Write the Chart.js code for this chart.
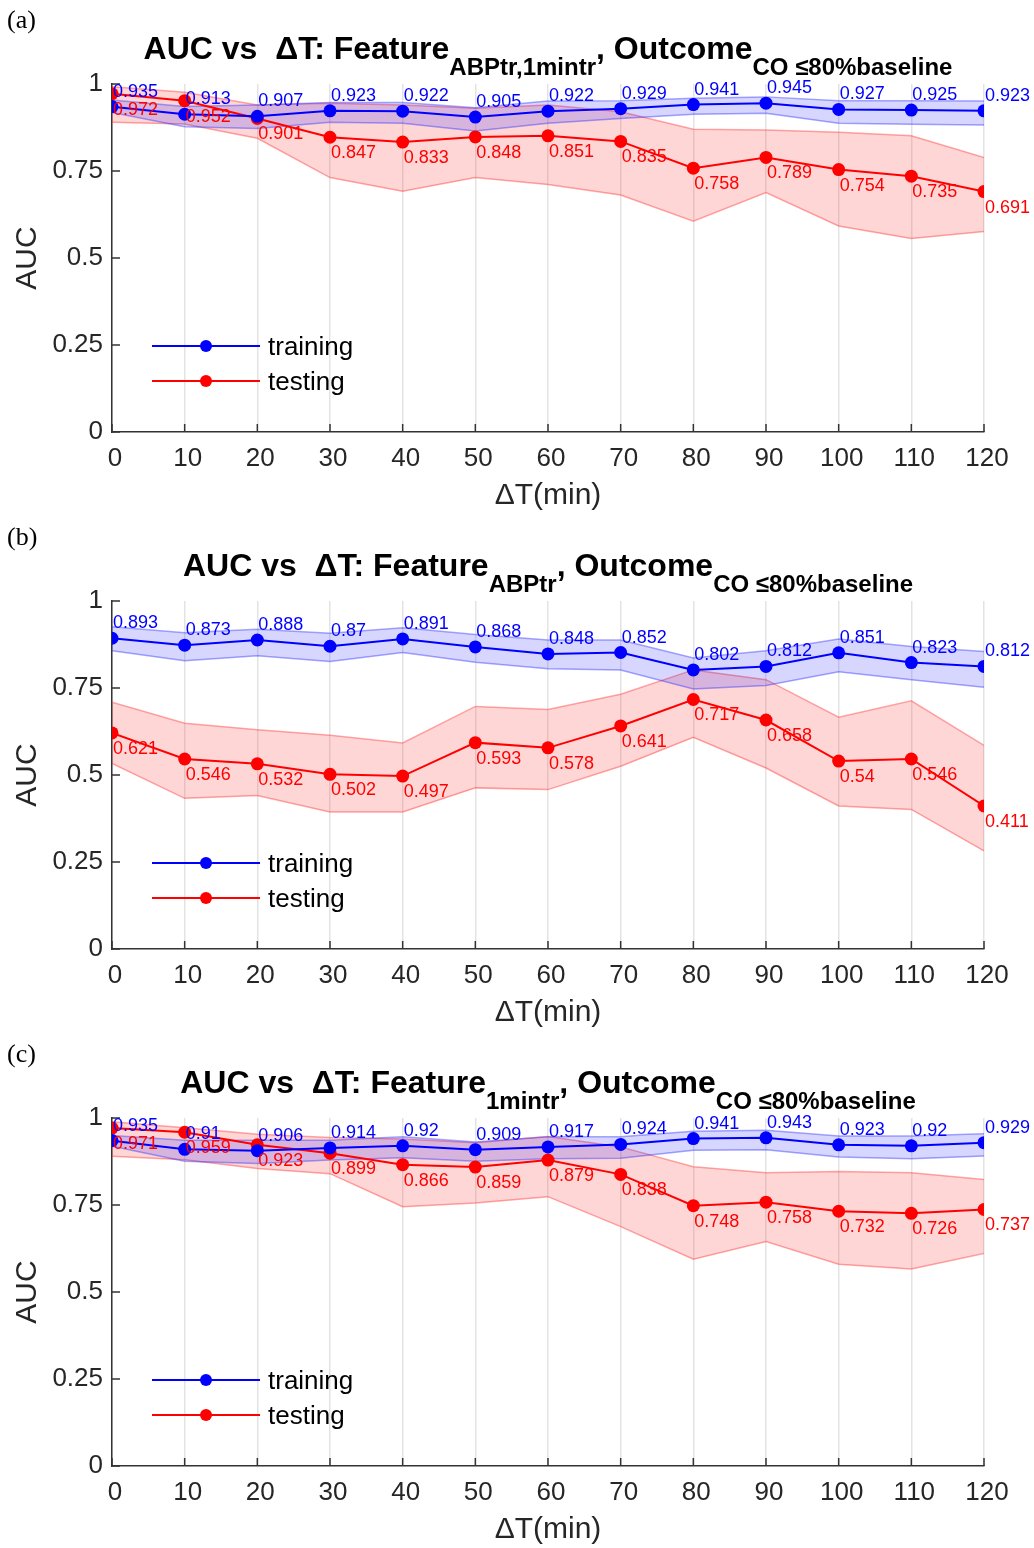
<!DOCTYPE html>
<html>
<head>
<meta charset="utf-8">
<title>AUC vs ΔT</title>
<script src="https://cdn.jsdelivr.net/npm/chart.js@4.4.1/dist/chart.umd.min.js"></script>
<style>
  html, body { margin: 0; padding: 0; background: #fff; overflow: hidden; }
  #wrap { position: relative; width: 1034px; height: 1548px; }
  canvas { position: absolute; left: 0; }
</style>
</head>
<body>
<div id="wrap">
  <canvas id="panel-a" width="1034" height="517" style="top:0"></canvas>
  <canvas id="panel-b" width="1034" height="517" style="top:517px"></canvas>
  <canvas id="panel-c" width="1034" height="517" style="top:1034px"></canvas>
</div>
<script>
// x categories (minutes) and y tick labels
const deltaT = [0, 10, 20, 30, 40, 50, 60, 70, 80, 90, 100, 110, 120];
const yTickLabels = ['0', '0.25', '0.5', '0.75', '1'];

// (a) Feature ABPtr,1mintr
const trainA   = [0.935, 0.913, 0.907, 0.923, 0.922, 0.905, 0.922, 0.929, 0.941, 0.945, 0.927, 0.925, 0.923];
const trainAHi = [0.954, 0.935, 0.940, 0.947, 0.947, 0.932, 0.951, 0.952, 0.959, 0.963, 0.952, 0.952, 0.951];
const trainALo = [0.918, 0.877, 0.872, 0.890, 0.887, 0.865, 0.887, 0.901, 0.913, 0.916, 0.887, 0.884, 0.882];
const testA    = [0.972, 0.952, 0.901, 0.847, 0.833, 0.848, 0.851, 0.835, 0.758, 0.789, 0.754, 0.735, 0.691];
const testAHi  = [0.992, 0.976, 0.940, 0.945, 0.940, 0.930, 0.940, 0.920, 0.870, 0.868, 0.861, 0.851, 0.789];
const testALo  = [0.890, 0.885, 0.844, 0.731, 0.692, 0.731, 0.711, 0.681, 0.606, 0.688, 0.592, 0.556, 0.576];

// (b) Feature ABPtr
const trainB   = [0.893, 0.873, 0.888, 0.87, 0.891, 0.868, 0.848, 0.852, 0.802, 0.812, 0.851, 0.823, 0.812];
const trainBHi = [0.926, 0.909, 0.919, 0.907, 0.923, 0.904, 0.888, 0.888, 0.836, 0.857, 0.891, 0.869, 0.855];
const trainBLo = [0.857, 0.828, 0.843, 0.826, 0.852, 0.824, 0.805, 0.802, 0.747, 0.757, 0.797, 0.774, 0.752];
const testB    = [0.621, 0.546, 0.532, 0.502, 0.497, 0.593, 0.578, 0.641, 0.717, 0.658, 0.54, 0.546, 0.411];
const testBHi  = [0.709, 0.649, 0.630, 0.614, 0.592, 0.697, 0.688, 0.732, 0.802, 0.774, 0.666, 0.713, 0.585];
const testBLo  = [0.533, 0.433, 0.441, 0.394, 0.394, 0.463, 0.458, 0.525, 0.608, 0.520, 0.411, 0.401, 0.282];

// (c) Feature 1mintr
const trainC   = [0.935, 0.91, 0.906, 0.914, 0.92, 0.909, 0.917, 0.924, 0.941, 0.943, 0.923, 0.92, 0.929];
const trainCHi = [0.950, 0.936, 0.936, 0.936, 0.946, 0.931, 0.946, 0.946, 0.962, 0.965, 0.948, 0.948, 0.955];
const trainCLo = [0.919, 0.876, 0.869, 0.879, 0.886, 0.876, 0.883, 0.884, 0.907, 0.909, 0.888, 0.883, 0.891];
const testC    = [0.971, 0.959, 0.923, 0.899, 0.866, 0.859, 0.879, 0.838, 0.748, 0.758, 0.732, 0.726, 0.737];
const testCHi  = [0.989, 0.972, 0.953, 0.944, 0.940, 0.929, 0.947, 0.917, 0.860, 0.843, 0.846, 0.843, 0.823];
const testCLo  = [0.890, 0.880, 0.855, 0.840, 0.745, 0.756, 0.774, 0.688, 0.594, 0.645, 0.580, 0.566, 0.611];

const SANS = '"Liberation Sans", Arial, Helvetica, sans-serif';
const SERIF = '"Liberation Serif", "Times New Roman", serif';
const AXIS_COLOR = '#262626';

function pts(ys) {
  return deltaT.map((x, i) => ({ x: x, y: ys[i] }));
}

// Title with subscripts, panel letter, axis titles, value labels, legend
const decorPlugin = {
  id: 'decor',
  afterDraw(chart, args, opts) {
    const ctx = chart.ctx;
    const area = chart.chartArea;
    ctx.save();
    // panel letter
    ctx.fillStyle = '#000';
    ctx.font = '26px ' + SERIF;
    ctx.textAlign = 'left';
    ctx.textBaseline = 'alphabetic';
    ctx.fillText(opts.letter, 7, 28);

    // title pieces: [text, isSub]
    const parts = [
      ['AUC vs  \u0394T: Feature', false],
      [opts.feature, true],
      [', Outcome', false],
      ['CO \u226480%baseline', true]
    ];
    const mainFont = 'bold 32px ' + SANS;
    const subFont = 'bold 24px ' + SANS;
    let total = 0;
    parts.forEach(p => {
      ctx.font = p[1] ? subFont : mainFont;
      total += ctx.measureText(p[0]).width;
    });
    let x = (area.left + area.right) / 2 - total / 2;
    parts.forEach(p => {
      ctx.font = p[1] ? subFont : mainFont;
      ctx.fillText(p[0], x, p[1] ? 75 : 59);
      x += ctx.measureText(p[0]).width;
    });

    // axis titles
    ctx.fillStyle = AXIS_COLOR;
    ctx.font = '30px ' + SANS;
    ctx.textAlign = 'center';
    ctx.textBaseline = 'middle';
    ctx.fillText('\u0394T(min)', (area.left + area.right) / 2, 496);
    ctx.save();
    ctx.translate(28, (area.top + area.bottom) / 2);
    ctx.rotate(-Math.PI / 2);
    ctx.fillText('AUC', 0, 0);
    ctx.restore();

    // inward tick marks
    const xs = chart.scales.x;
    const ys = chart.scales.y;
    ctx.strokeStyle = '#333';
    ctx.lineWidth = 1.5;
    ctx.beginPath();
    xs.ticks.forEach(t => {
      const px = xs.getPixelForValue(t.value);
      ctx.moveTo(px, area.bottom);
      ctx.lineTo(px, area.bottom - 8);
    });
    ys.ticks.forEach(t => {
      const py = ys.getPixelForValue(t.value);
      ctx.moveTo(area.left, py);
      ctx.lineTo(area.left + 8, py);
    });
    ctx.stroke();

    // value labels next to the mean points
    ctx.font = '18px ' + SANS;
    ctx.textAlign = 'left';
    [0, 1].forEach(di => {
      const ds = chart.data.datasets[di];
      const meta = chart.getDatasetMeta(di);
      ctx.fillStyle = ds.borderColor;
      meta.data.forEach((el, i) => {
        const label = String(ds.data[i].y);
        if (di === 0) {
          ctx.textBaseline = 'alphabetic';
          ctx.fillText(label, el.x + 1, el.y - 10);
        } else {
          ctx.textBaseline = 'top';
          ctx.fillText(label, el.x + 1, el.y + 7);
        }
      });
    });

    // legend inside the axes
    ctx.font = '26px ' + SANS;
    ctx.textBaseline = 'middle';
    [0, 1].forEach((di, k) => {
      const ds = chart.data.datasets[di];
      const ly = 346 + k * 35;
      const lx = area.left + 40;
      ctx.strokeStyle = ds.borderColor;
      ctx.lineWidth = 2;
      ctx.beginPath();
      ctx.moveTo(lx, ly);
      ctx.lineTo(lx + 108, ly);
      ctx.stroke();
      ctx.fillStyle = ds.borderColor;
      ctx.beginPath();
      ctx.arc(lx + 54, ly, 6, 0, Math.PI * 2);
      ctx.fill();
      ctx.fillStyle = '#000';
      ctx.fillText(ds.label, lx + 116, ly + 2);
    });
    ctx.restore();
  }
};

function makePanel(id, letter, feature, train, trainHi, trainLo, test, testHi, testLo) {
  const bandLine = {
    pointRadius: 0,
    pointHoverRadius: 0,
    borderWidth: 1.5,
    tension: 0
  };
  new Chart(document.getElementById(id), {
    type: 'line',
    data: {
      datasets: [
        {
          label: 'training',
          data: pts(train),
          borderColor: '#0000ff',
          backgroundColor: '#0000ff',
          pointBackgroundColor: '#0000ff',
          pointBorderWidth: 0,
          pointRadius: 6.5,
          borderWidth: 2,
          fill: false
        },
        {
          label: 'testing',
          data: pts(test),
          borderColor: '#ff0000',
          backgroundColor: '#ff0000',
          pointBackgroundColor: '#ff0000',
          pointBorderWidth: 0,
          pointRadius: 6.5,
          borderWidth: 2,
          fill: false
        },
        Object.assign({
          label: 'train upper',
          data: pts(trainHi),
          borderColor: 'rgba(60,60,255,0.45)',
          backgroundColor: 'rgba(0,0,255,0.16)',
          fill: '+1'
        }, bandLine),
        Object.assign({
          label: 'train lower',
          data: pts(trainLo),
          borderColor: 'rgba(60,60,255,0.45)',
          fill: false
        }, bandLine),
        Object.assign({
          label: 'test upper',
          data: pts(testHi),
          borderColor: 'rgba(255,60,60,0.45)',
          backgroundColor: 'rgba(255,0,0,0.16)',
          fill: '+1'
        }, bandLine),
        Object.assign({
          label: 'test lower',
          data: pts(testLo),
          borderColor: 'rgba(255,60,60,0.45)',
          fill: false
        }, bandLine)
      ]
    },
    options: {
      responsive: false,
      animation: false,
      devicePixelRatio: 1,
      layout: { padding: { left: 0, top: 84, right: 50, bottom: 0 } },
      scales: {
        x: {
          type: 'linear',
          min: 0,
          max: 120,
          afterFit(scale) { scale.height = 85; },
          ticks: {
            stepSize: 10,
            color: AXIS_COLOR,
            font: { family: SANS, size: 26 },
            padding: 11,
            labelOffset: 3,
            maxRotation: 0
          },
          grid: {
            color: 'rgba(0,0,0,0.11)',
            lineWidth: 1.5,
            drawTicks: false
          },
          border: { display: true, color: '#333', width: 1.5 }
        },
        y: {
          min: 0,
          max: 1,
          afterFit(scale) { scale.width = 112; },
          ticks: {
            stepSize: 0.25,
            color: AXIS_COLOR,
            font: { family: SANS, size: 26 },
            padding: 9,
            callback: (v, i) => yTickLabels[i]
          },
          grid: { display: false, drawTicks: false },
          border: { display: true, color: '#333', width: 1.5 }
        }
      },
      plugins: {
        legend: { display: false },
        tooltip: { enabled: false },
        decor: { letter: letter, feature: feature }
      }
    },
    plugins: [decorPlugin]
  });
}

makePanel('panel-a', '(a)', 'ABPtr,1mintr', trainA, trainAHi, trainALo, testA, testAHi, testALo);
makePanel('panel-b', '(b)', 'ABPtr', trainB, trainBHi, trainBLo, testB, testBHi, testBLo);
makePanel('panel-c', '(c)', '1mintr', trainC, trainCHi, trainCLo, testC, testCHi, testCLo);
</script>
</body>
</html>
